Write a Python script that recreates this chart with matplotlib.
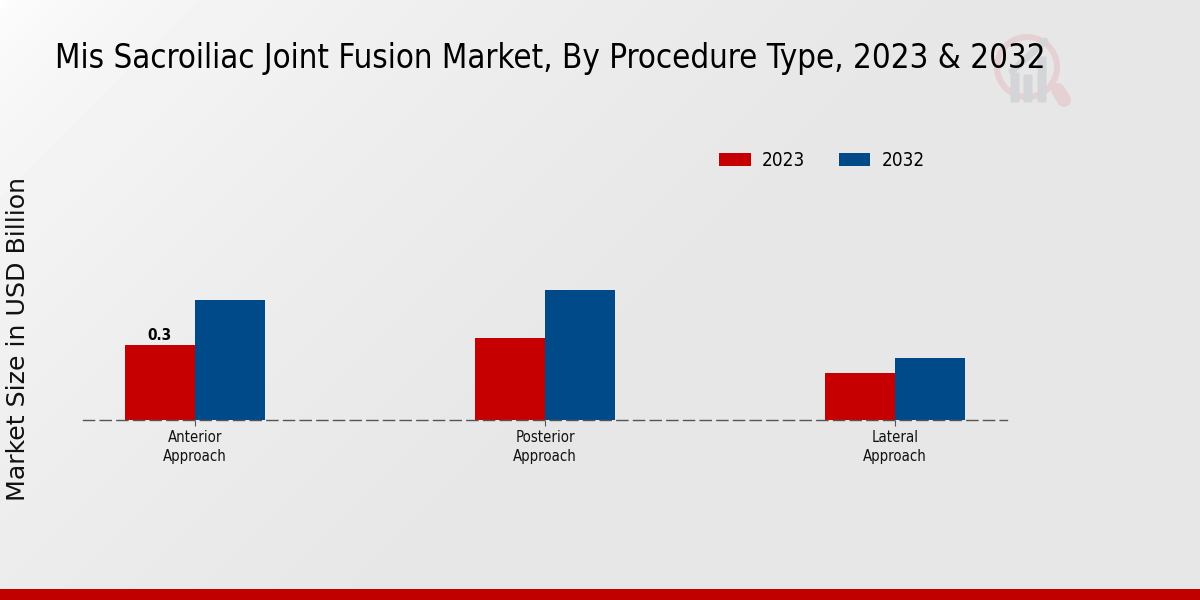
import numpy as np
import matplotlib
matplotlib.use("Agg")
import matplotlib.pyplot as plt
from matplotlib.patches import FancyBboxPatch, Wedge

categories = ["Anterior\nApproach", "Posterior\nApproach", "Lateral\nApproach"]
values_2023 = [0.30, 0.33, 0.19]
values_2032 = [0.48, 0.52, 0.25]
year_labels = ["2023", "2032"]

RED = "#c60000"
BLUE = "#004a8a"
W, H = 1200, 600

plt.rcParams["font.family"] = "DejaVu Sans"

fig = plt.figure(figsize=(12, 6), dpi=100)

# background, white corner fading to grey
bg = fig.add_axes([0, 0, 1, 1], zorder=0)
yy, xx = np.mgrid[0:1:300j, 0:1:600j]
fade = np.clip((xx * 2 + yy) / 1.6, 0, 1) ** 0.5
bg.imshow(1.0 - 0.095 * fade, cmap="gray", vmin=0, vmax=1, aspect="auto",
          extent=[0, W, H, 0])
bg.set_xlim(0, W)
bg.set_ylim(H, 0)
bg.axis("off")

# watermark logo
bg.add_patch(Wedge((1027, 67), 33, 0, 360, width=6, color="#e5d0d3", lw=0))
bg.plot([1058, 1064], [90, 100], color="#e5d0d3", lw=10, solid_capstyle="round")
for x, top in [(1015, 74), (1028, 76), (1042, 58)]:
    bg.add_patch(FancyBboxPatch((x - 3, top), 6, 101 - top,
                                boxstyle="round,pad=1.5", color="#d3d5d8", lw=0))
bg.plot([1012, 1045], [71, 41], color="#d3d5d8", lw=5, solid_capstyle="round")

# bottom strip
bg.axhspan(589, 600, color="#c00000", lw=0)

ax = fig.add_axes([83 / W, 1 - 420 / H, 924 / W, 290 / H], zorder=1)
ax.patch.set_alpha(0)
x = np.arange(len(categories))
bar_w = 0.2
ax.bar(x - bar_w / 2, values_2023, bar_w, color=RED, label=year_labels[0])
ax.bar(x + bar_w / 2, values_2032, bar_w, color=BLUE, label=year_labels[1])
ax.set_xlim(-0.32, 2.32)
ax.set_ylim(0, 1.16)

for side in ["top", "right", "left"]:
    ax.spines[side].set_visible(False)
ax.spines["bottom"].set_linestyle((0, (8, 4)))
ax.spines["bottom"].set_color("#555555")
ax.spines["bottom"].set_linewidth(1.0)
ax.set_yticks([])
ax.set_xticks(x)
ax.set_xticklabels(categories, fontsize=10.7, stretch="condensed", color="#111111",
                   linespacing=1.35)
ax.tick_params(axis="x", length=4, width=0.8, color="#555555", pad=3)

ax.text(x[0] - bar_w / 2, values_2023[0] + 0.008, "0.3", ha="center", va="bottom",
        fontsize=11, fontweight="bold", stretch="condensed", color="black")

handles, labels = ax.get_legend_handles_labels()
leg = fig.legend(handles, labels, ncol=2, frameon=False, loc="center",
                 bbox_to_anchor=(822 / W, 1 - 160.5 / H), fontsize=13.6,
                 handlelength=1.65, handleheight=0.69, columnspacing=1.75, handletextpad=0.62)
for t in leg.get_texts():
    t.set_stretch("condensed")

fig.text(55 / W, 1 - 58.5 / H, "Mis Sacroiliac Joint Fusion Market, By Procedure Type, 2023 & 2032",
         fontsize=23.7, stretch="condensed", va="center", ha="left", color="black", zorder=3)
fig.text(18 / W, 1 - 339 / H, "Market Size in USD Billion", fontsize=18.2, rotation=90,
         va="center", ha="center", color="#111111", zorder=3)

fig.savefig("out.png", dpi=100)
